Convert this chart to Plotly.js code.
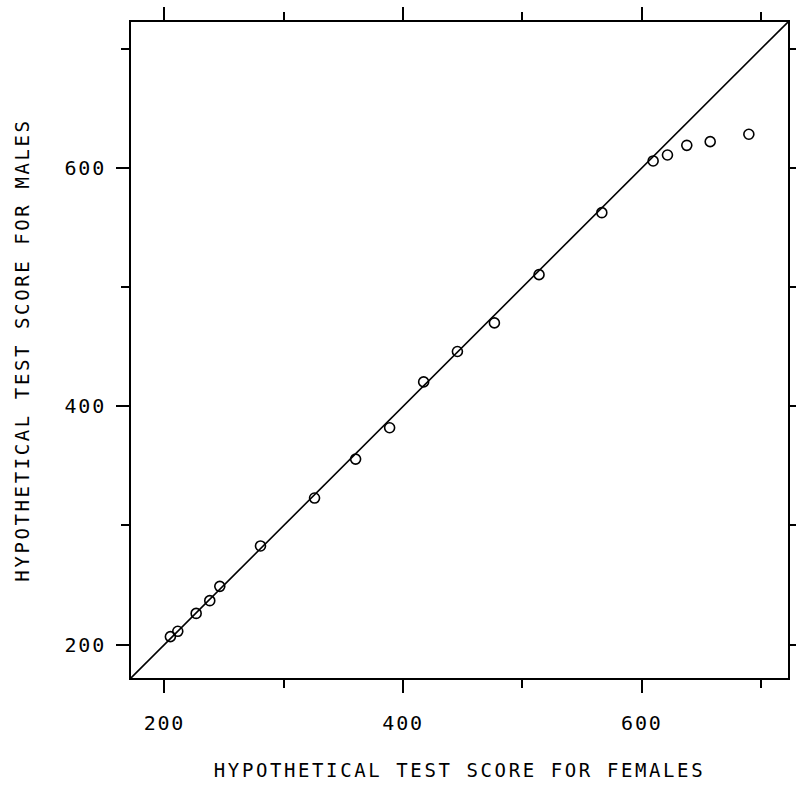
<!DOCTYPE html>
<html>
<head>
<meta charset="utf-8">
<script src="https://cdn.plot.ly/plotly-3.0.1.min.js"></script>
<style>
html, body { margin: 0; padding: 0; background: #fff; }
#chart { width: 796px; height: 786px; }
.xtitle, .ytitle { letter-spacing: 2.6px; }
.xtick text, .ytick text { letter-spacing: 1.8px; }
</style>
</head>
<body>
<div id="chart"></div>
<script>
// Hypothetical test scores
var femaleScores = [205.0, 211.2, 226.6, 238.0, 246.4, 280.5, 325.8, 360.2, 388.7, 417.2,
                    445.5, 476.5, 513.9, 566.5, 609.5, 621.5, 637.7, 657.3, 689.7];
var maleScores   = [206.7, 211.2, 226.2, 236.9, 248.9, 282.8, 323.0, 355.7, 382.0, 420.5,
                    446.0, 470.0, 510.5, 562.5, 605.9, 610.9, 619.0, 622.1, 628.3];
// reference line y = x
var diagonal = [172, 722.5];
var majorTicks = [200, 400, 600];
var majorLabels = ['200', '400', '600'];
var minorTicks = [300, 500, 700];

var xTitle = 'HYPOTHETICAL TEST SCORE FOR FEMALES';
var yTitle = 'HYPOTHETICAL TEST SCORE FOR MALES';

var fontFam = 'DejaVu Sans Mono, monospace';

var traces = [
  {
    x: diagonal, y: diagonal, mode: 'lines', type: 'scatter',
    line: {color: '#000', width: 1.6}, hoverinfo: 'skip', showlegend: false
  },
  {
    x: femaleScores, y: maleScores, mode: 'markers', type: 'scatter',
    marker: {symbol: 'circle-open', size: 10, color: '#000', line: {color: '#000', width: 1.6}},
    showlegend: false
  }
];

function axis(titleText, standoff) {
  return {
    range: [diagonal[0], diagonal[1]],
    showgrid: false, zeroline: false,
    showline: true, linecolor: '#000', linewidth: 2, mirror: 'ticks',
    ticks: 'outside', ticklen: 13, tickwidth: 2, tickcolor: '#000',
    tickmode: 'array', tickvals: majorTicks, ticktext: majorLabels,
    tickfont: {family: fontFam, size: 20, color: '#000'},
    minor: {tickmode: 'array', tickvals: minorTicks, ticks: 'outside', ticklen: 8, tickwidth: 2, tickcolor: '#000', showgrid: false},
    title: {text: titleText, font: {family: fontFam, size: 19, color: '#000'}, standoff: standoff},
    automargin: false, fixedrange: true
  };
}

var xa = axis(xTitle, 30);
xa.ticklabelstandoff = 13;
var ya = axis(yTitle, 30);
ya.ticklabelstandoff = 6;

var layout = {
  width: 796, height: 786,
  margin: {l: 131, r: 8, t: 22, b: 108},
  paper_bgcolor: '#fff', plot_bgcolor: '#fff',
  xaxis: xa, yaxis: ya,
  showlegend: false
};

Plotly.newPlot('chart', traces, layout, {displayModeBar: false, staticPlot: true});
</script>
</body>
</html>
